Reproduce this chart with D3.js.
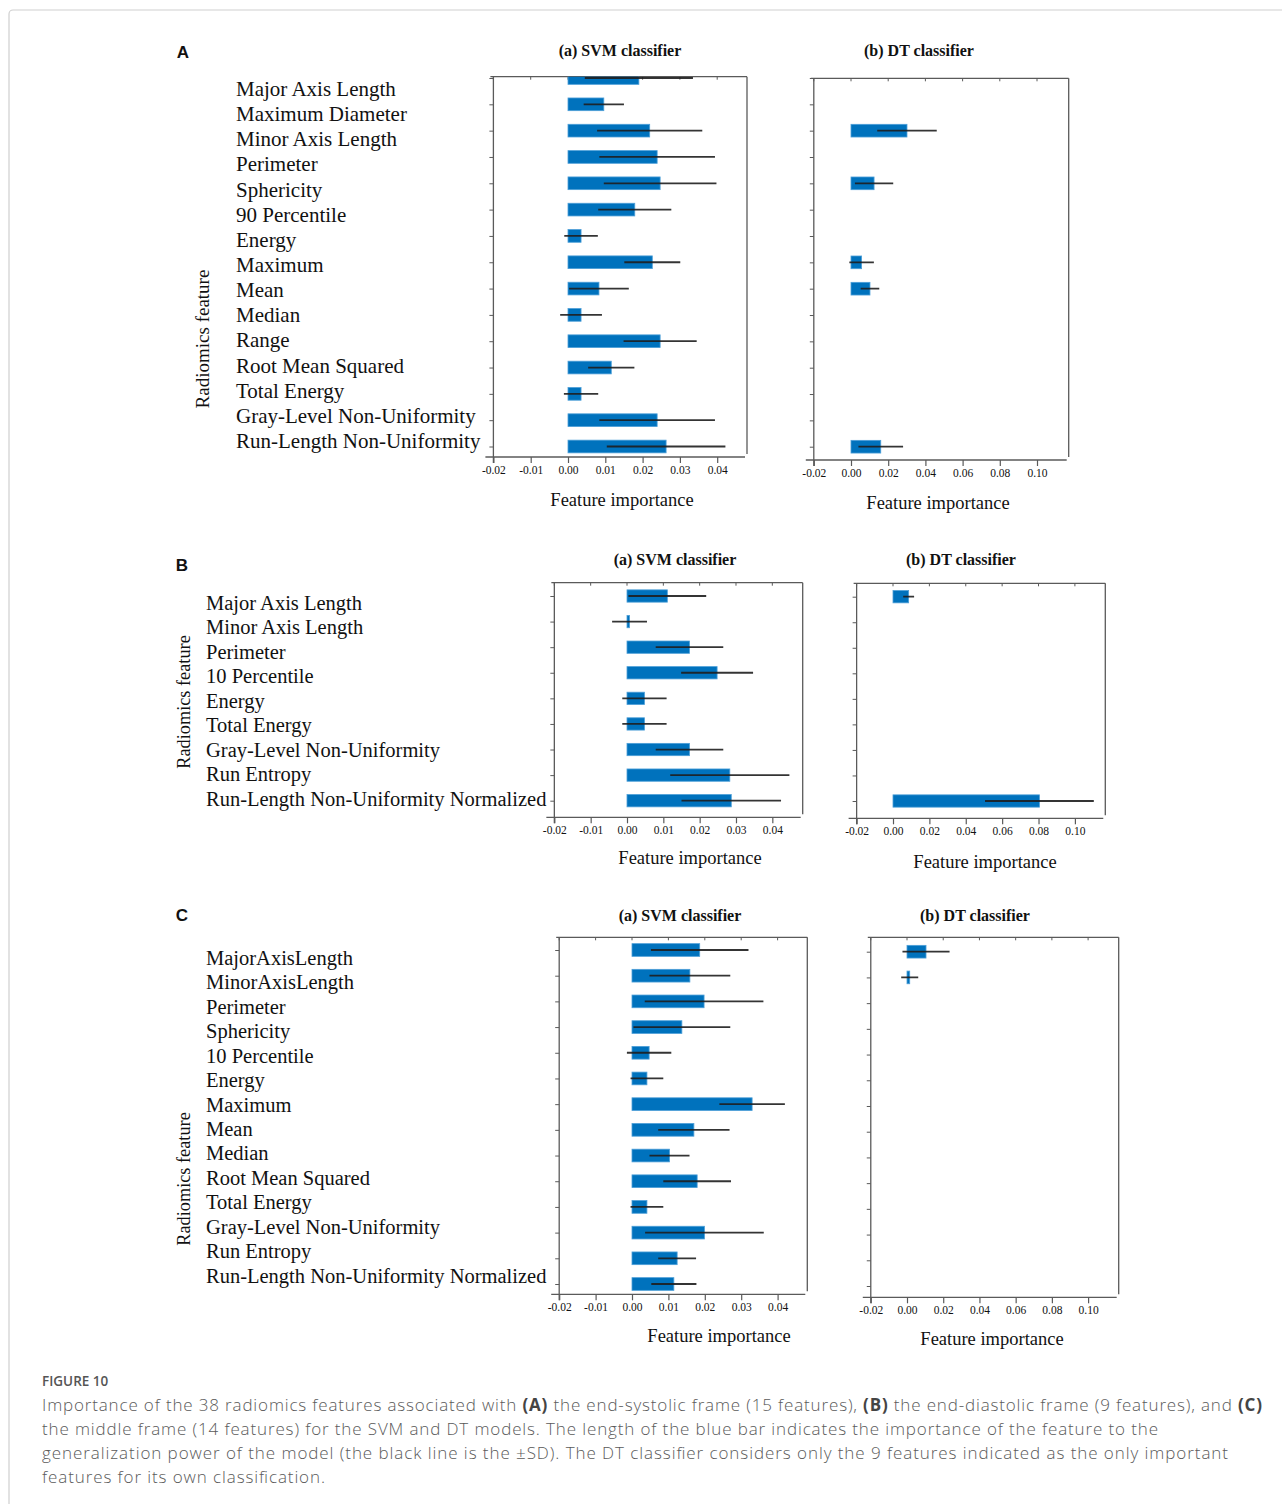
<!DOCTYPE html>
<html><head><meta charset="utf-8">
<script src="https://cdn.jsdelivr.net/npm/d3@7"></script>
<style>
html,body{margin:0;padding:0;background:#fff;}
svg{display:block;}
</style></head><body>
<svg id="fig" width="1282" height="1504"></svg>
<script>
// ---- Data: permutation feature importance (mean and SD) per frame ----
const featuresA = ["Major Axis Length","Maximum Diameter","Minor Axis Length","Perimeter","Sphericity","90 Percentile","Energy","Maximum","Mean","Median","Range","Root Mean Squared","Total Energy","Gray-Level Non-Uniformity","Run-Length Non-Uniformity"];
const svmImportanceA = [0.0190,0.0096,0.0219,0.0239,0.0247,0.0179,0.0035,0.0226,0.0083,0.0035,0.0247,0.0116,0.0035,0.0239,0.0263];
const svmSdA         = [0.0145,0.0054,0.0141,0.0155,0.0151,0.0098,0.0045,0.0075,0.0080,0.0056,0.0098,0.0062,0.0046,0.0155,0.0159];
const dtImportanceA  = [null,null,0.0301,null,0.0124,null,null,0.0057,0.0102,null,null,null,null,null,0.0160];
const dtSdA          = [null,null,0.0160,null,0.0103,null,null,0.0066,0.0050,null,null,null,null,null,0.0120];

const featuresB = ["Major Axis Length","Minor Axis Length","Perimeter","10 Percentile","Energy","Total Energy","Gray-Level Non-Uniformity","Run Entropy","Run-Length Non-Uniformity Normalized"];
const svmImportanceB = [0.0111,0.0007,0.0172,0.0248,0.0048,0.0048,0.0172,0.0283,0.0287];
const svmSdB         = [0.0107,0.0048,0.0093,0.0099,0.0061,0.0061,0.0093,0.0164,0.0137];
const dtImportanceB  = [0.0086,null,null,null,null,null,null,null,0.0805];
const dtSdB          = [0.0030,null,null,null,null,null,null,null,0.0299];

const featuresC = ["MajorAxisLength","MinorAxisLength","Perimeter","Sphericity","10 Percentile","Energy","Maximum","Mean","Median","Root Mean Squared","Total Energy","Gray-Level Non-Uniformity","Run Entropy","Run-Length Non-Uniformity Normalized"];
const svmImportanceC = [0.0186,0.0159,0.0198,0.0137,0.0047,0.0041,0.0330,0.0170,0.0103,0.0179,0.0041,0.0199,0.0124,0.0115];
const svmSdC         = [0.0134,0.0111,0.0163,0.0133,0.0061,0.0045,0.0090,0.0098,0.0055,0.0093,0.0045,0.0163,0.0052,0.0062];
const dtImportanceC  = [0.0105,0.0015,null,null,null,null,null,null,null,null,null,null,null,null];
const dtSdC          = [0.0130,0.0047,null,null,null,null,null,null,null,null,null,null,null,null];

const svmTicks = [-0.02,-0.01,0,0.01,0.02,0.03,0.04];
const dtTicks  = [-0.02,0,0.02,0.04,0.06,0.08,0.10];

const svmTitle = "(a) SVM classifier";
const dtTitle  = "(b) DT classifier";
const xTitle = "Feature importance";
const yTitle = "Radiomics feature";

// ---- Styles ----
const SERIF = "'Liberation Serif','Times New Roman',serif";
const BAR = "#0072BD", BAR_EDGE = "#4d9fd8", ERR = "#1e1e1e", AXIS = "#5a5a5a";

const svg = d3.select("#fig");
svg.append("rect").attr("x",9).attr("y",10).attr("width",1300).attr("height",1520)
  .attr("rx",4).attr("fill","none").attr("stroke","#cfcfcf").attr("stroke-width",1.2);

let clipId = 0;
function drawPlot(features, values, sds, ticks, L) {
  const g = svg.append("g");
  const x = d3.scaleLinear().domain([0, 0.1]).range([L.x0, L.x0 + 0.1 * L.k]);
  const y = d3.scalePoint().domain(features).range([L.yFirst, L.yLast]);
  const left = x(-0.02);

  // frame
  g.append("line").attr("x1",left-3).attr("x2",L.right).attr("y1",L.top).attr("y2",L.top)
    .attr("stroke",AXIS).attr("stroke-width",1.3);
  g.append("line").attr("x1",L.right).attr("x2",L.right).attr("y1",L.top).attr("y2",L.bottom-3)
    .attr("stroke",AXIS).attr("stroke-width",1.3);
  g.append("line").attr("x1",left).attr("x2",left).attr("y1",L.top).attr("y2",L.bottom+6)
    .attr("stroke",AXIS).attr("stroke-width",1.3);
  g.append("line").attr("x1",left-8).attr("x2",L.right-2).attr("y1",L.bottom).attr("y2",L.bottom)
    .attr("stroke",AXIS).attr("stroke-width",1.3);

  // top ticks
  g.append("g").selectAll("line").data(ticks).join("line")
    .attr("x1",d=>x(d)).attr("x2",d=>x(d)).attr("y1",L.top).attr("y2",L.top+3)
    .attr("stroke",AXIS).attr("stroke-width",1);

  // left axis (row ticks)
  const ya = g.append("g").attr("transform",`translate(${left},0)`)
    .call(d3.axisLeft(y).tickSize(4).tickSizeOuter(0).tickFormat(""));
  ya.select(".domain").remove();
  ya.selectAll(".tick line").attr("stroke",AXIS).attr("stroke-width",1);

  // bottom axis
  const xa = g.append("g").attr("transform",`translate(0,${L.bottom})`)
    .call(d3.axisBottom(x).tickValues(ticks).tickSize(6).tickSizeOuter(0).tickFormat(d=>d.toFixed(2)));
  xa.select(".domain").remove();
  xa.selectAll(".tick line").attr("stroke",AXIS).attr("stroke-width",1.2);
  xa.selectAll(".tick text").attr("y",9).attr("dy","0.71em")
    .attr("font-family",SERIF).attr("font-size",11.5).attr("fill","#111");

  // bars + SD lines, clipped to the frame
  const cid = "clip" + (clipId++);
  g.append("clipPath").attr("id",cid).append("rect")
    .attr("x",left).attr("y",L.top).attr("width",L.right-left).attr("height",L.bottom-L.top);
  const rows = features.map((f,i)=>({f, v: values[i], sd: sds[i]})).filter(r=>r.v!=null);
  const pg = g.append("g").attr("clip-path",`url(#${cid})`);
  pg.selectAll("rect").data(rows).join("rect")
    .attr("x",d=>x(0)).attr("width",d=>x(d.v)-x(0))
    .attr("y",d=>y(d.f)-L.barH/2).attr("height",L.barH)
    .attr("fill",BAR).attr("stroke",BAR_EDGE).attr("stroke-width",0.8);
  pg.selectAll("line.err").data(rows).join("line").attr("class","err")
    .attr("x1",d=>x(d.v-d.sd)).attr("x2",d=>x(d.v+d.sd))
    .attr("y1",d=>y(d.f)).attr("y2",d=>y(d.f))
    .attr("stroke",ERR).attr("stroke-width",1.8).attr("stroke-opacity",0.9);

  // titles
  g.append("text").attr("x",L.title[0]).attr("y",L.title[1]).attr("dy","0.35em")
    .attr("text-anchor","middle").attr("font-family",SERIF).attr("font-weight","bold")
    .attr("font-size",16).attr("fill","#111").text(L.titleText);
  g.append("text").attr("x",L.xTitle[0]).attr("y",L.xTitle[1]).attr("dy","0.35em")
    .attr("text-anchor","middle").attr("font-family",SERIF)
    .attr("font-size",18.5).attr("fill","#111").text(xTitle);
}

function drawPanel(letter, features, P) {
  svg.append("text").attr("x",P.letter[0]).attr("y",P.letter[1]).attr("dy","0.35em")
    .attr("text-anchor","middle").attr("font-family","'Liberation Sans',Arial,sans-serif")
    .attr("font-weight","bold").attr("font-size",17).attr("fill","#111").text(letter);
  const ly = d3.scalePoint().domain(features).range([P.labelFirst, P.labelLast]);
  svg.append("g").selectAll("text").data(features).join("text")
    .attr("x",P.labelX).attr("y",d=>ly(d)).attr("dy","0.33em")
    .attr("font-family",SERIF).attr("font-size",P.labelSize).attr("fill","#111").text(d=>d);
  svg.append("text").attr("transform",`translate(${P.yTitle[0]},${P.yTitle[1]}) rotate(-90)`)
    .attr("dy","0.35em").attr("text-anchor","middle").attr("font-family",SERIF)
    .attr("font-size",P.yTitleSize).attr("fill","#111").text(yTitle);
}

// ---- Panel A: end-systolic frame ----
drawPanel("A", featuresA, {letter:[183,52], labelX:236, labelFirst:89, labelLast:441, labelSize:21, yTitle:[202,339], yTitleSize:19});
drawPlot(featuresA, svmImportanceA, svmSdA, svmTicks,
  {x0:568, k:3730, right:747, top:76.7, bottom:457, yFirst:78, yLast:446.5, barH:12.7,
   title:[620,50], titleText:svmTitle, xTitle:[622,500]});
drawPlot(featuresA, dtImportanceA, dtSdA, dtTicks,
  {x0:851, k:1860, right:1068.7, top:78.3, bottom:460, yFirst:78, yLast:446.7, barH:12.7,
   title:[919,50], titleText:dtTitle, xTitle:[938,503]});

// ---- Panel B: end-diastolic frame ----
drawPanel("B", featuresB, {letter:[182,565], labelX:206, labelFirst:603, labelLast:799, labelSize:20.5, yTitle:[184,702], yTitleSize:18.3});
drawPlot(featuresB, svmImportanceB, svmSdB, svmTicks,
  {x0:627, k:3633, right:802.7, top:582.7, bottom:817.3, yFirst:596, yLast:800.7, barH:12.3,
   title:[675,559], titleText:svmTitle, xTitle:[690,858]});
drawPlot(featuresB, dtImportanceB, dtSdB, dtTicks,
  {x0:893, k:1819, right:1105.3, top:583.3, bottom:818.3, yFirst:596.7, yLast:801, barH:12.3,
   title:[961,559], titleText:dtTitle, xTitle:[985,862]});

// ---- Panel C: middle frame ----
drawPanel("C", featuresC, {letter:[182,915], labelX:206, labelFirst:958, labelLast:1276, labelSize:20.5, yTitle:[184,1179], yTitleSize:18.3});
drawPlot(featuresC, svmImportanceC, svmSdC, svmTicks,
  {x0:632, k:3640, right:807.3, top:937.3, bottom:1294.3, yFirst:950, yLast:1284, barH:12.7,
   title:[680,915], titleText:svmTitle, xTitle:[719,1336]});
drawPlot(featuresC, dtImportanceC, dtSdC, dtTicks,
  {x0:907, k:1811, right:1118.7, top:937.3, bottom:1297.3, yFirst:951.7, yLast:1286, barH:12.7,
   title:[975,915], titleText:dtTitle, xTitle:[992,1339]});

// ---- Caption ----
const CAP = "'Open Sans',Lato,sans-serif";
svg.append("text").attr("x",42).attr("y",1381).attr("dy","0.35em")
  .attr("font-family",CAP).attr("font-weight",600).attr("font-size",13.5).attr("fill","#555")
  .text("FIGURE 10");
const captionLines = [
  {w:1220, parts:[["Importance of the 38 radiomics features associated with ",0],["(A)",1],[" the end-systolic frame (15 features), ",0],["(B)",1],[" the end-diastolic frame (9 features), and ",0],["(C)",1]]},
  {w:1116, parts:[["the middle frame (14 features) for the SVM and DT models. The length of the blue bar indicates the importance of the feature to the",0]]},
  {w:1186, parts:[["generalization power of the model (the black line is the \u00B1SD). The DT classifier considers only the 9 features indicated as the only important",0]]},
  {w:283, parts:[["features for its own classification.",0]]}
];
captionLines.forEach((ln,i)=>{
  const t = svg.append("text").attr("x",42).attr("y",1405+i*24).attr("dy","0.35em")
    .attr("font-family",CAP).attr("font-weight",300).attr("font-size",17).attr("fill","#5a5a5a")
    .attr("textLength",ln.w).attr("lengthAdjust","spacing");
  ln.parts.forEach(p=>{
    t.append("tspan").attr("font-weight",p[1]?700:300).attr("fill",p[1]?"#444":"#5a5a5a").text(p[0]);
  });
});
</script>
</body></html>
